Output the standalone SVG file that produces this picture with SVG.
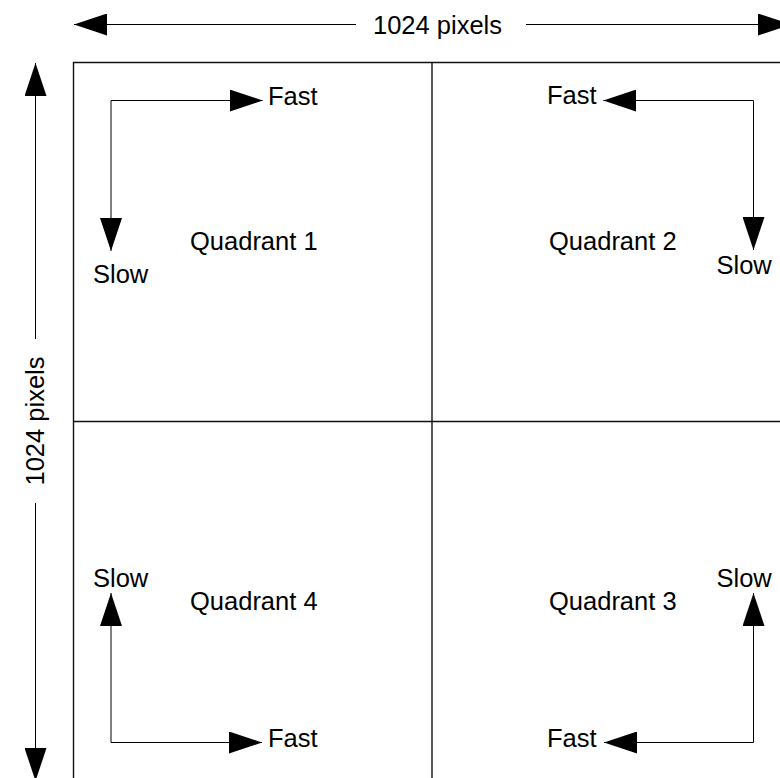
<svg xmlns="http://www.w3.org/2000/svg" width="780" height="778" viewBox="0 0 780 778">
  <style>
    text { font-family: "Liberation Sans", Arial, sans-serif; font-size: 25.5px; fill: #000; }
    .frame { fill: none; stroke: #111; stroke-width: 1.4; }
    .dim { fill: none; stroke: #000; stroke-width: 1; marker-end: url(#head); }
    .scan { fill: none; stroke: #000; stroke-width: 1; marker-end: url(#head); }
  </style>
  <defs>
    <marker id="head" viewBox="0 0 33 22" markerWidth="33" markerHeight="22" refX="33" refY="11" orient="auto" markerUnits="userSpaceOnUse">
      <path d="M0,0 L33,11 L0,22 z" fill="#000"/>
    </marker>
  </defs>
  <rect width="780" height="778" fill="#fff"/>

  <!-- image frame split into four quadrants -->
  <g id="frame">
    <path class="frame" d="M73.5,800 V62.5 H800"/>
    <path class="frame" d="M432,62.5 V800"/>
    <path class="frame" d="M73.5,421.5 H800"/>
  </g>

  <!-- dimension arrows -->
  <g id="dimensions">
    <path class="dim" d="M356,24.5 H74"/>
    <path class="dim" d="M526,24.5 H791"/>
    <text x="373" y="33.5">1024 pixels</text>
    <path class="dim" d="M35.5,339 V63"/>
    <path class="dim" d="M35.5,503 V781"/>
    <text transform="translate(44,421) rotate(-90)" text-anchor="middle">1024 pixels</text>
  </g>

  <!-- quadrant labels -->
  <g id="quadrant1"><text x="190" y="250">Quadrant 1</text></g>
  <g id="quadrant2"><text x="549" y="250">Quadrant 2</text></g>
  <g id="quadrant3"><text x="549" y="610">Quadrant 3</text></g>
  <g id="quadrant4"><text x="190" y="610">Quadrant 4</text></g>

  <!-- scan-direction connectors -->
  <g id="connectors">
    <path class="scan" d="M111,100.5 H262.7"/>
    <path class="scan" d="M111,100.5 V251"/>
    <path class="scan" d="M753.5,100.5 H603.3"/>
    <path class="scan" d="M753.5,100.5 V250"/>
    <path class="scan" d="M111,742.5 H262"/>
    <path class="scan" d="M111,742.5 V593"/>
    <path class="scan" d="M753.5,742.5 H604"/>
    <path class="scan" d="M753.5,742.5 V593"/>
  </g>

  <!-- direction labels -->
  <g id="labels">
    <text x="268" y="105">Fast</text>
    <text x="93" y="283">Slow</text>
    <text x="547" y="104">Fast</text>
    <text x="716.5" y="274">Slow</text>
    <text x="93" y="587">Slow</text>
    <text x="268" y="747">Fast</text>
    <text x="716.5" y="587">Slow</text>
    <text x="547" y="747">Fast</text>
  </g>
</svg>
